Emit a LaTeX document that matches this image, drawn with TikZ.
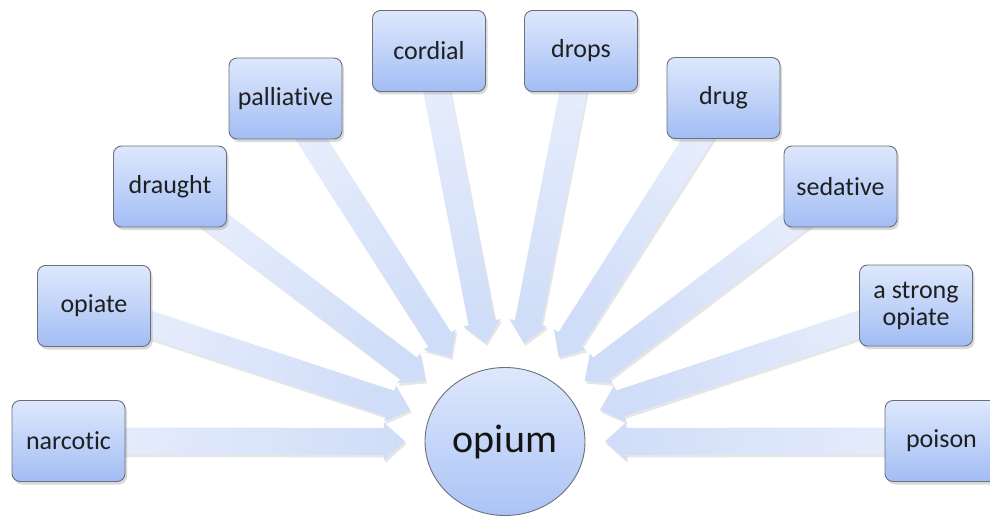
\documentclass[tikz,border=0pt]{standalone}
\usepackage{fontspec}
\setmainfont{Carlito}[Ligatures=NoCommon]
\usetikzlibrary{calc,shadows,shapes.geometric}
\definecolor{boxtop}{HTML}{DEE8FC}
\definecolor{boxbot}{HTML}{A2BDF4}
\definecolor{boxline}{HTML}{6C7079}
\definecolor{arrlight}{HTML}{E8EEFC}
\definecolor{arrdark}{HTML}{D0DDF8}
\pgfdeclarelayer{bg}
\pgfsetlayers{bg,main}
\tikzset{
  wordbox/.style={draw=boxline, line width=0.9pt, rounded corners=8pt,
    minimum width=113pt, minimum height=81pt, inner sep=0pt,
    top color=boxtop, bottom color=boxbot, align=center,
    font=\fontsize{26}{27}\selectfont, text=black!88,
    drop shadow={shadow xshift=2pt, shadow yshift=-3pt, opacity=0.3}},
  hub/.style={ellipse, draw=boxline, line width=0.9pt,
    minimum width=160pt, minimum height=148pt, inner sep=0pt,
    top color=boxtop, bottom color=boxbot!85!boxtop,
    font=\fontsize{40}{44}\selectfont, text=black!92},
  arrowshape/.style={draw=none,
    drop shadow={shadow xshift=1.5pt, shadow yshift=-2.5pt, opacity=0.2}}
}
\newcommand\blockarrow[2]{%
  \path let \p1=(#1.center), \p2=(#2), \n1={atan2(\y2-\y1,\x2-\x1)-90} in
    \pgfextra{\xdef\arrang{\n1}};
  \path[arrowshape, top color=arrdark, bottom color=arrlight, shading angle=\arrang]
    ($(#1.center)!13.5pt!90:(#2)$)
    -- ($($(#2)!21pt!(#1.center)$)!13.5pt!90:(#2)$)
    -- ($($(#2)!21pt!(#1.center)$)!19pt!90:(#2)$)
    -- (#2)
    -- ($($(#2)!21pt!(#1.center)$)!19pt!-90:(#2)$)
    -- ($($(#2)!21pt!(#1.center)$)!13.5pt!-90:(#2)$)
    -- ($(#1.center)!13.5pt!-90:(#2)$) -- cycle;
}
\begin{document}
\begin{tikzpicture}[x=1pt,y=-1pt]
\useasboundingbox (0,0) rectangle (990,516);
\clip (0,0) rectangle (990,516);
\node[hub] (opium) at (505,441.5) {opium};
\node[wordbox] (narcotic)   at (68.5,441)   {narcotic};
\node[wordbox] (opiate)     at (94,306)     {opiate};
\node[wordbox] (draught)    at (170,186.5)  {draught};
\node[wordbox] (palliative) at (285.5,98.5) {palliative};
\node[wordbox] (cordial)    at (429,51)     {cordial};
\node[wordbox] (drops)      at (581,51)     {drops};
\node[wordbox] (drug)       at (723.5,98)   {drug};
\node[wordbox] (sedative)   at (840.5,186.5){sedative};
\node[wordbox] (strong)     at (916,305.5)  {a strong\\opiate};
\node[wordbox] (poison)     at (941.5,441)  {poison};
\foreach \b in {narcotic,opiate,draught,palliative,cordial,drops,drug,sedative,strong,poison}
  \coordinate (tip-\b) at ($(opium.center)!100pt!(\b.center)$);
\begin{pgfonlayer}{bg}
\foreach \b in {narcotic,opiate,draught,palliative,cordial,drops,drug,sedative,strong,poison}
  {\blockarrow{\b}{tip-\b}}
\end{pgfonlayer}
\end{tikzpicture}
\end{document}
